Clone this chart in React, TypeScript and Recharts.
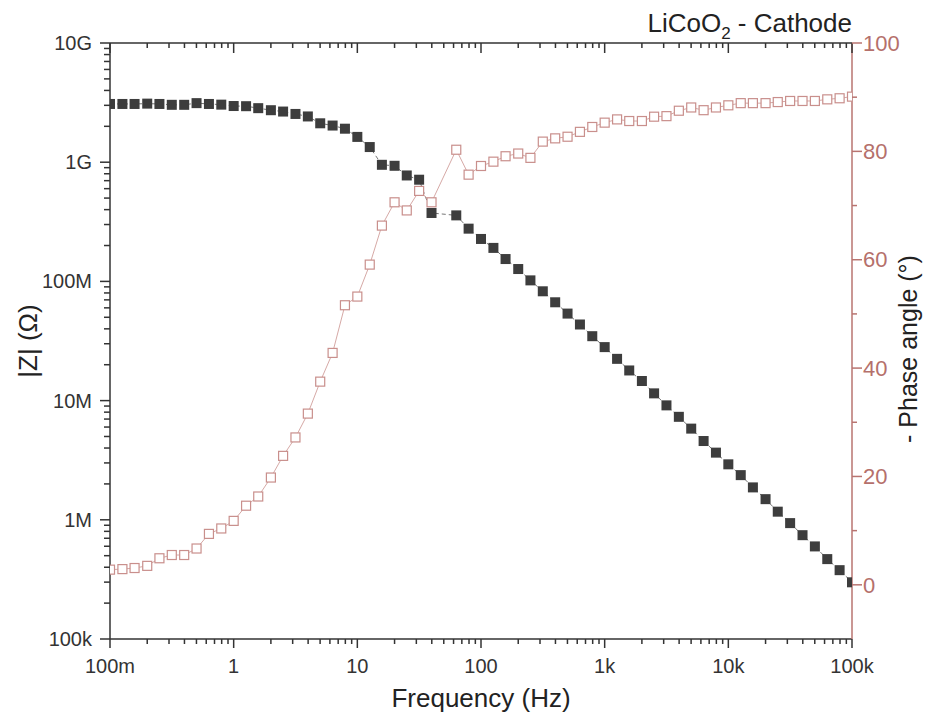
import React from 'react';
import { ComposedChart, Line, XAxis, YAxis } from 'recharts';

// Frequencies (Hz), 10 points per decade; the 50 Hz point is absent in the measurement
const FREQ_HZ = [
  0.1, 0.126, 0.158, 0.2, 0.251, 0.316, 0.398, 0.501, 0.631, 0.794,
  1, 1.26, 1.58, 2, 2.51, 3.16, 3.98, 5.01, 6.31, 7.94,
  10, 12.6, 15.8, 20, 25.1, 31.6, 39.8, 63.1, 79.4,
  100, 126, 158, 200, 251, 316, 398, 501, 631, 794,
  1000, 1260, 1580, 2000, 2510, 3160, 3980, 5010, 6310, 7940,
  10000, 12600, 15800, 20000, 25100, 31600, 39800, 50100, 63100, 79400,
  100000,
];

// |Z| in ohm
const Z_MOD_OHM = [
  3.08e9, 3.08e9, 3.08e9, 3.1e9, 3.08e9, 3.03e9, 3.03e9, 3.13e9, 3.08e9, 3.04e9,
  2.96e9, 2.95e9, 2.84e9, 2.73e9, 2.66e9, 2.54e9, 2.42e9, 2.12e9, 2.03e9, 1.91e9,
  1.63e9, 1.34e9, 9.51e8, 9.33e8, 7.74e8, 7.13e8, 3.75e8, 3.58e8, 2.77e8,
  2.27e8, 1.91e8, 1.54e8, 1.27e8, 1.02e8, 8.26e7, 6.68e7, 5.37e7, 4.35e7, 3.47e7,
  2.81e7, 2.24e7, 1.79e7, 1.46e7, 1.15e7, 9.12e6, 7.31e6, 5.82e6, 4.58e6, 3.66e6,
  2.92e6, 2.37e6, 1.87e6, 1.49e6, 1.17e6, 9.38e5, 7.43e5, 5.98e5, 4.68e5, 3.78e5,
  2.99e5,
];

// - Phase angle in degrees
const PHASE_DEG = [
  2.8, 2.9, 3.1, 3.5, 4.9, 5.5, 5.5, 6.7, 9.4, 10.4,
  11.8, 14.6, 16.3, 19.8, 23.8, 27.2, 31.6, 37.5, 42.8, 51.6,
  53.2, 59.1, 66.3, 70.6, 69.1, 72.7, 70.6, 80.3, 75.7,
  77.3, 78.1, 79.1, 79.6, 78.8, 81.8, 82.4, 82.7, 83.6, 84.5,
  85.3, 85.9, 85.6, 85.6, 86.4, 86.5, 87.5, 88.1, 87.6, 88.1,
  88.5, 88.9, 88.9, 88.9, 89.1, 89.3, 89.3, 89.3, 89.6, 89.8,
  90.1,
];

const X_MAJOR_TICKS = [0.1, 1, 10, 100, 1000, 10000, 100000];
const X_TICK_LABELS = ['100m', '1', '10', '100', '1k', '10k', '100k'];
const Z_MAJOR_TICKS = [1e5, 1e6, 1e7, 1e8, 1e9, 1e10];
const Z_TICK_LABELS = ['100k', '1M', '10M', '100M', '1G', '10G'];
const PHASE_MAJOR_TICKS = [0, 20, 40, 60, 80, 100];
const PHASE_MINOR_TICKS = [10, 30, 50, 70, 90];
const DECADE_MINOR_MULT = [2, 3, 4, 5, 6, 7, 8, 9];

const TITLE = 'LiCoO';
const X_TITLE = 'Frequency (Hz)';
const Z_TITLE = '|Z| (\u03A9)';
const PHASE_TITLE = '- Phase angle (\u00B0)';

const FONT = '"Liberation Sans", Arial, Helvetica, sans-serif';
const AXIS = '#333333';
const ROSE_AXIS = '#b87470';
const ROSE_TEXT = '#b5706b';
const DARK_MARK = '#3d3d3d';
const ROSE_MARK = '#c98f8c';
const ROSE_LINE = '#d6a9a6';

const minorLog = (majors: number[]) =>
  majors.slice(0, -1).flatMap((m) => DECADE_MINOR_MULT.map((k) => +(m * k).toPrecision(3)));

const X_TICKS = [...X_MAJOR_TICKS, ...minorLog(X_MAJOR_TICKS)].sort((a, b) => a - b);
const Z_TICKS = [...Z_MAJOR_TICKS, ...minorLog(Z_MAJOR_TICKS)].sort((a, b) => a - b);
const PHASE_TICKS = [...PHASE_MAJOR_TICKS, ...PHASE_MINOR_TICKS].sort((a, b) => a - b);

const data = FREQ_HZ.map((f, i) => ({ f, z: Z_MOD_OHM[i], phase: PHASE_DEG[i] }));

const majorIndex = (v: number, majors: number[]) =>
  majors.findIndex((m) => (m === 0 ? v === 0 : Math.abs(m - v) / Math.abs(m) < 1e-6));

const BottomTick = (props: any) => {
  const { x, y, payload } = props;
  const idx = majorIndex(payload.value, X_MAJOR_TICKS);
  const major = idx >= 0;
  return (
    <g>
      <line x1={x} x2={x} y1={y} y2={y + (major ? 9 : 5)} stroke={AXIS} strokeWidth={1.5} />
      {major && (
        <text x={x} y={y + 34} textAnchor="middle" fontSize={20} fill="#333" fontFamily={FONT}>
          {X_TICK_LABELS[idx]}
        </text>
      )}
    </g>
  );
};

const TopTick = (props: any) => {
  const { x, y, payload } = props;
  const major = majorIndex(payload.value, X_MAJOR_TICKS) >= 0;
  return <line x1={x} x2={x} y1={y} y2={y + (major ? 10 : 5)} stroke={AXIS} strokeWidth={1.5} />;
};

const LeftTick = (props: any) => {
  const { x, y, payload } = props;
  const idx = majorIndex(payload.value, Z_MAJOR_TICKS);
  const major = idx >= 0;
  return (
    <g>
      <line x1={x} x2={x - (major ? 10 : 6)} y1={y} y2={y} stroke={AXIS} strokeWidth={1.5} />
      {major && (
        <text x={x - 18} y={y} dy="0.35em" textAnchor="end" fontSize={20} fill="#333" fontFamily={FONT}>
          {Z_TICK_LABELS[idx]}
        </text>
      )}
    </g>
  );
};

const RightTick = (props: any) => {
  const { x, y, payload } = props;
  const idx = majorIndex(payload.value, PHASE_MAJOR_TICKS);
  const major = idx >= 0;
  return (
    <g>
      <line x1={x} x2={x + (major ? 10 : 5)} y1={y} y2={y} stroke={ROSE_AXIS} strokeWidth={1.5} />
      {major && (
        <text x={x + 11} y={y} dy="0.35em" textAnchor="start" fontSize={22} fill={ROSE_TEXT} fontFamily={FONT}>
          {PHASE_MAJOR_TICKS[idx]}
        </text>
      )}
    </g>
  );
};

const FilledSquare = (props: any) => {
  const { cx, cy, index } = props;
  if (cx == null || cy == null) return <g key={`zf-${index}`} />;
  return <rect key={`zf-${index}`} x={cx - 5} y={cy - 5} width={10} height={10} fill={DARK_MARK} />;
};

const OpenSquare = (props: any) => {
  const { cx, cy, index } = props;
  if (cx == null || cy == null) return <g key={`po-${index}`} />;
  return (
    <rect
      key={`po-${index}`}
      x={cx - 4.5}
      y={cy - 4.5}
      width={9}
      height={9}
      fill="#ffffff"
      stroke={ROSE_MARK}
      strokeWidth={1.2}
    />
  );
};

const LeftTitle = (props: any) => {
  const vb = props.viewBox || { x: 0, y: 43, width: 110, height: 596 };
  const cx = vb.x + 28;
  const cy = vb.y + vb.height / 2;
  return (
    <text
      x={cx}
      y={cy}
      dy="0.35em"
      textAnchor="middle"
      transform={`rotate(-90, ${cx}, ${cy})`}
      fontSize={26}
      fill="#222"
      fontFamily={FONT}
    >
      {Z_TITLE}
    </text>
  );
};

const RightTitle = (props: any) => {
  const vb = props.viewBox || { x: 852, y: 43, width: 78, height: 596 };
  const cx = vb.x + 56;
  const cy = vb.y + vb.height / 2 + 8;
  return (
    <text
      x={cx}
      y={cy}
      dy="0.35em"
      textAnchor="middle"
      transform={`rotate(-90, ${cx}, ${cy})`}
      fontSize={25}
      fill="#222"
      fontFamily={FONT}
    >
      {PHASE_TITLE}
    </text>
  );
};

const BottomTitle = (props: any) => {
  const vb = props.viewBox || { x: 110, y: 639, width: 742, height: 74 };
  return (
    <text x={vb.x + vb.width / 2} y={vb.y + 68} textAnchor="middle" fontSize={26} fill="#222" fontFamily={FONT}>
      {X_TITLE}
    </text>
  );
};

const TopTitle = (props: any) => {
  const vb = props.viewBox || { x: 110, y: 42, width: 742, height: 1 };
  return (
    <text x={vb.x + vb.width} y={vb.y + vb.height - 11} textAnchor="end" fontSize={26} fill="#222" fontFamily={FONT}>
      {TITLE}
      <tspan fontSize={17} dy={7}>2</tspan>
      <tspan dy={-7}> - Cathode</tspan>
    </text>
  );
};

export default function App() {
  return (
    <div style={{ position: 'absolute', left: 0, top: 0, width: 930, height: 713, background: '#fff' }}>
      <ComposedChart width={930} height={713} data={data} margin={{ top: 42, right: 0, bottom: 0, left: 0 }}>
        <XAxis
          xAxisId="bottom"
          dataKey="f"
          type="number"
          scale="log"
          domain={[0.1, 100000]}
          allowDataOverflow
          ticks={X_TICKS}
          interval={0}
          orientation="bottom"
          height={74}
          tickSize={0}
          tickMargin={0}
          tickLine={false}
          tick={BottomTick}
          axisLine={{ stroke: AXIS, strokeWidth: 1.5 }}
          label={BottomTitle}
        />
        <XAxis
          xAxisId="top"
          dataKey="f"
          type="number"
          scale="log"
          domain={[0.1, 100000]}
          allowDataOverflow
          ticks={X_TICKS}
          interval={0}
          orientation="top"
          height={1}
          tickSize={0}
          tickMargin={0}
          tickLine={false}
          tick={TopTick}
          axisLine={{ stroke: AXIS, strokeWidth: 1.5 }}
          label={TopTitle}
        />
        <YAxis
          yAxisId="left"
          type="number"
          scale="log"
          domain={[1e5, 1e10]}
          allowDataOverflow
          ticks={Z_TICKS}
          interval={0}
          orientation="left"
          width={110}
          tickSize={0}
          tickMargin={0}
          tickLine={false}
          tick={LeftTick}
          axisLine={{ stroke: AXIS, strokeWidth: 1.5 }}
          label={LeftTitle}
        />
        <YAxis
          yAxisId="right"
          type="number"
          domain={[-10, 100]}
          allowDataOverflow
          ticks={PHASE_TICKS}
          interval={0}
          orientation="right"
          width={78}
          tickSize={0}
          tickMargin={0}
          tickLine={false}
          tick={RightTick}
          axisLine={{ stroke: ROSE_AXIS, strokeWidth: 1.5 }}
          label={RightTitle}
        />
        <Line
          xAxisId="bottom"
          yAxisId="left"
          dataKey="z"
          type="linear"
          stroke="#777777"
          strokeWidth={1}
          strokeDasharray="4 3"
          dot={FilledSquare}
          activeDot={false}
          isAnimationActive={false}
        />
        <Line
          xAxisId="top"
          yAxisId="right"
          dataKey="phase"
          type="linear"
          stroke={ROSE_LINE}
          strokeWidth={1}
          dot={OpenSquare}
          activeDot={false}
          isAnimationActive={false}
        />
      </ComposedChart>
    </div>
  );
}
